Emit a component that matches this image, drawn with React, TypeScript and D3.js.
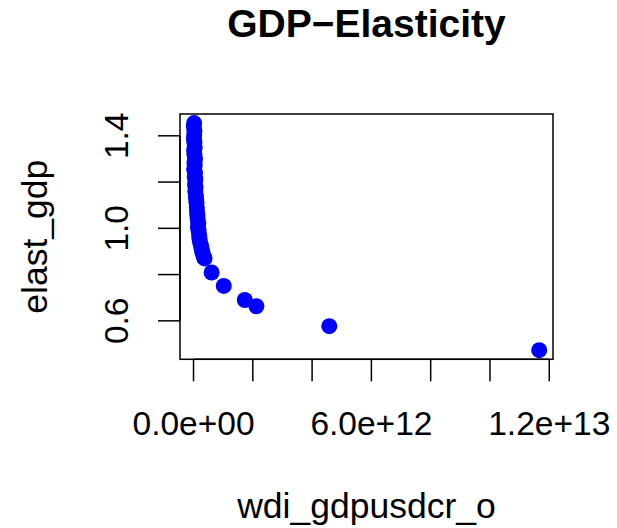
import React from "react";
import * as d3 from "d3";

// GDP in units of 1e12 USD
const gdpTrillions: number[] = [
  0.02, 0.01, 0.03, 0.02, 0.015, 0.03, 0.04, 0.02, 0.03, 0.05, 0.03, 0.04, 0.02,
  0.05, 0.04, 0.06, 0.05, 0.07, 0.06, 0.08, 0.09, 0.1, 0.11, 0.12, 0.13, 0.14,
  0.16, 0.15, 0.17, 0.19, 0.2, 0.22, 0.25, 0.28, 0.3, 0.34, 0.37, 0.61, 1.02,
  1.73, 2.12, 4.58, 11.66,
];
const elastGdp: number[] = [
  1.455, 1.44, 1.42, 1.4, 1.385, 1.37, 1.35, 1.335, 1.32, 1.3, 1.285, 1.27, 1.255,
  1.24, 1.225, 1.21, 1.19, 1.175, 1.16, 1.14, 1.125, 1.11, 1.09, 1.07, 1.055, 1.04,
  1.02, 1.005, 0.99, 0.97, 0.955, 0.94, 0.925, 0.91, 0.895, 0.88, 0.87, 0.809, 0.751,
  0.69, 0.663, 0.577, 0.473,
];
const xTicks: number[] = [0, 2e12, 4e12, 6e12, 8e12, 1e13, 1.2e13];
const xTickLabels: { v: number; label: string }[] = [
  { v: 0, label: "0.0e+00" },
  { v: 6e12, label: "6.0e+12" },
  { v: 1.2e13, label: "1.2e+13" },
];
const yTicks: number[] = [0.6, 0.8, 1.0, 1.2, 1.4];
const yTickLabels: { v: number; label: string }[] = [
  { v: 0.6, label: "0.6" },
  { v: 1.0, label: "1.0" },
  { v: 1.4, label: "1.4" },
];

const W = 617;
const H = 528;
const box = { left: 180, right: 553, top: 114, bottom: 359.3 };

function rExtent(vals: number[]): [number, number] {
  const [lo, hi] = d3.extent(vals) as [number, number];
  const pad = (hi - lo) * 0.04;
  return [lo - pad, hi + pad];
}

export default function App() {
  const xs = gdpTrillions.map((v) => v * 1e12);
  const x = d3.scaleLinear().domain(rExtent(xs)).range([box.left, box.right]);
  const y = d3.scaleLinear().domain(rExtent(elastGdp)).range([box.bottom, box.top]);
  const font = "'Liberation Sans', Arial, Helvetica, sans-serif";
  const tick = 22;
  const cx = (box.left + box.right) / 2;
  const cy = (box.top + box.bottom) / 2;
  return (
    <svg width={W} height={H} style={{ position: "absolute", left: 0, top: 0 }} fontFamily={font}>
      <rect width={W} height={H} fill="#fff" />
      <text x={cx} y={37} textAnchor="middle" fontWeight="bold" fontSize={39}>
        GDP−Elasticity
      </text>
      {/* points */}
      {xs.map((v, i) => (
        <circle key={i} cx={x(v)} cy={y(elastGdp[i])} r={8} fill="#0000ff" />
      ))}
      {/* box */}
      <rect
        x={box.left}
        y={box.top}
        width={box.right - box.left}
        height={box.bottom - box.top}
        fill="none"
        stroke="#000"
        strokeWidth={1.5}
      />
      {/* x axis */}
      <line x1={x(xTicks[0])} x2={x(xTicks[xTicks.length - 1])} y1={box.bottom} y2={box.bottom} stroke="#000" strokeWidth={1.5} />
      {xTicks.map((t) => (
        <line key={t} x1={x(t)} x2={x(t)} y1={box.bottom} y2={box.bottom + tick} stroke="#000" strokeWidth={1.5} />
      ))}
      {xTickLabels.map((t) => (
        <text key={t.label} x={x(t.v)} y={435} textAnchor="middle" fontSize={33.5}>
          {t.label}
        </text>
      ))}
      {/* y axis */}
      <line x1={box.left} x2={box.left} y1={y(yTicks[0])} y2={y(yTicks[yTicks.length - 1])} stroke="#000" strokeWidth={1.5} />
      {yTicks.map((t) => (
        <line key={t} x1={box.left - tick} x2={box.left} y1={y(t)} y2={y(t)} stroke="#000" strokeWidth={1.5} />
      ))}
      {yTickLabels.map((t) => (
        <text
          key={t.label}
          transform={`translate(128,${y(t.v)}) rotate(-90)`}
          textAnchor="middle"
          fontSize={33.5}
        >
          {t.label}
        </text>
      ))}
      <text x={cx} y={518} textAnchor="middle" fontSize={35.5}>
        wdi_gdpusdcr_o
      </text>
      <text transform={`translate(47,${cy}) rotate(-90)`} textAnchor="middle" fontSize={35.5}>
        elast_gdp
      </text>
    </svg>
  );
}
